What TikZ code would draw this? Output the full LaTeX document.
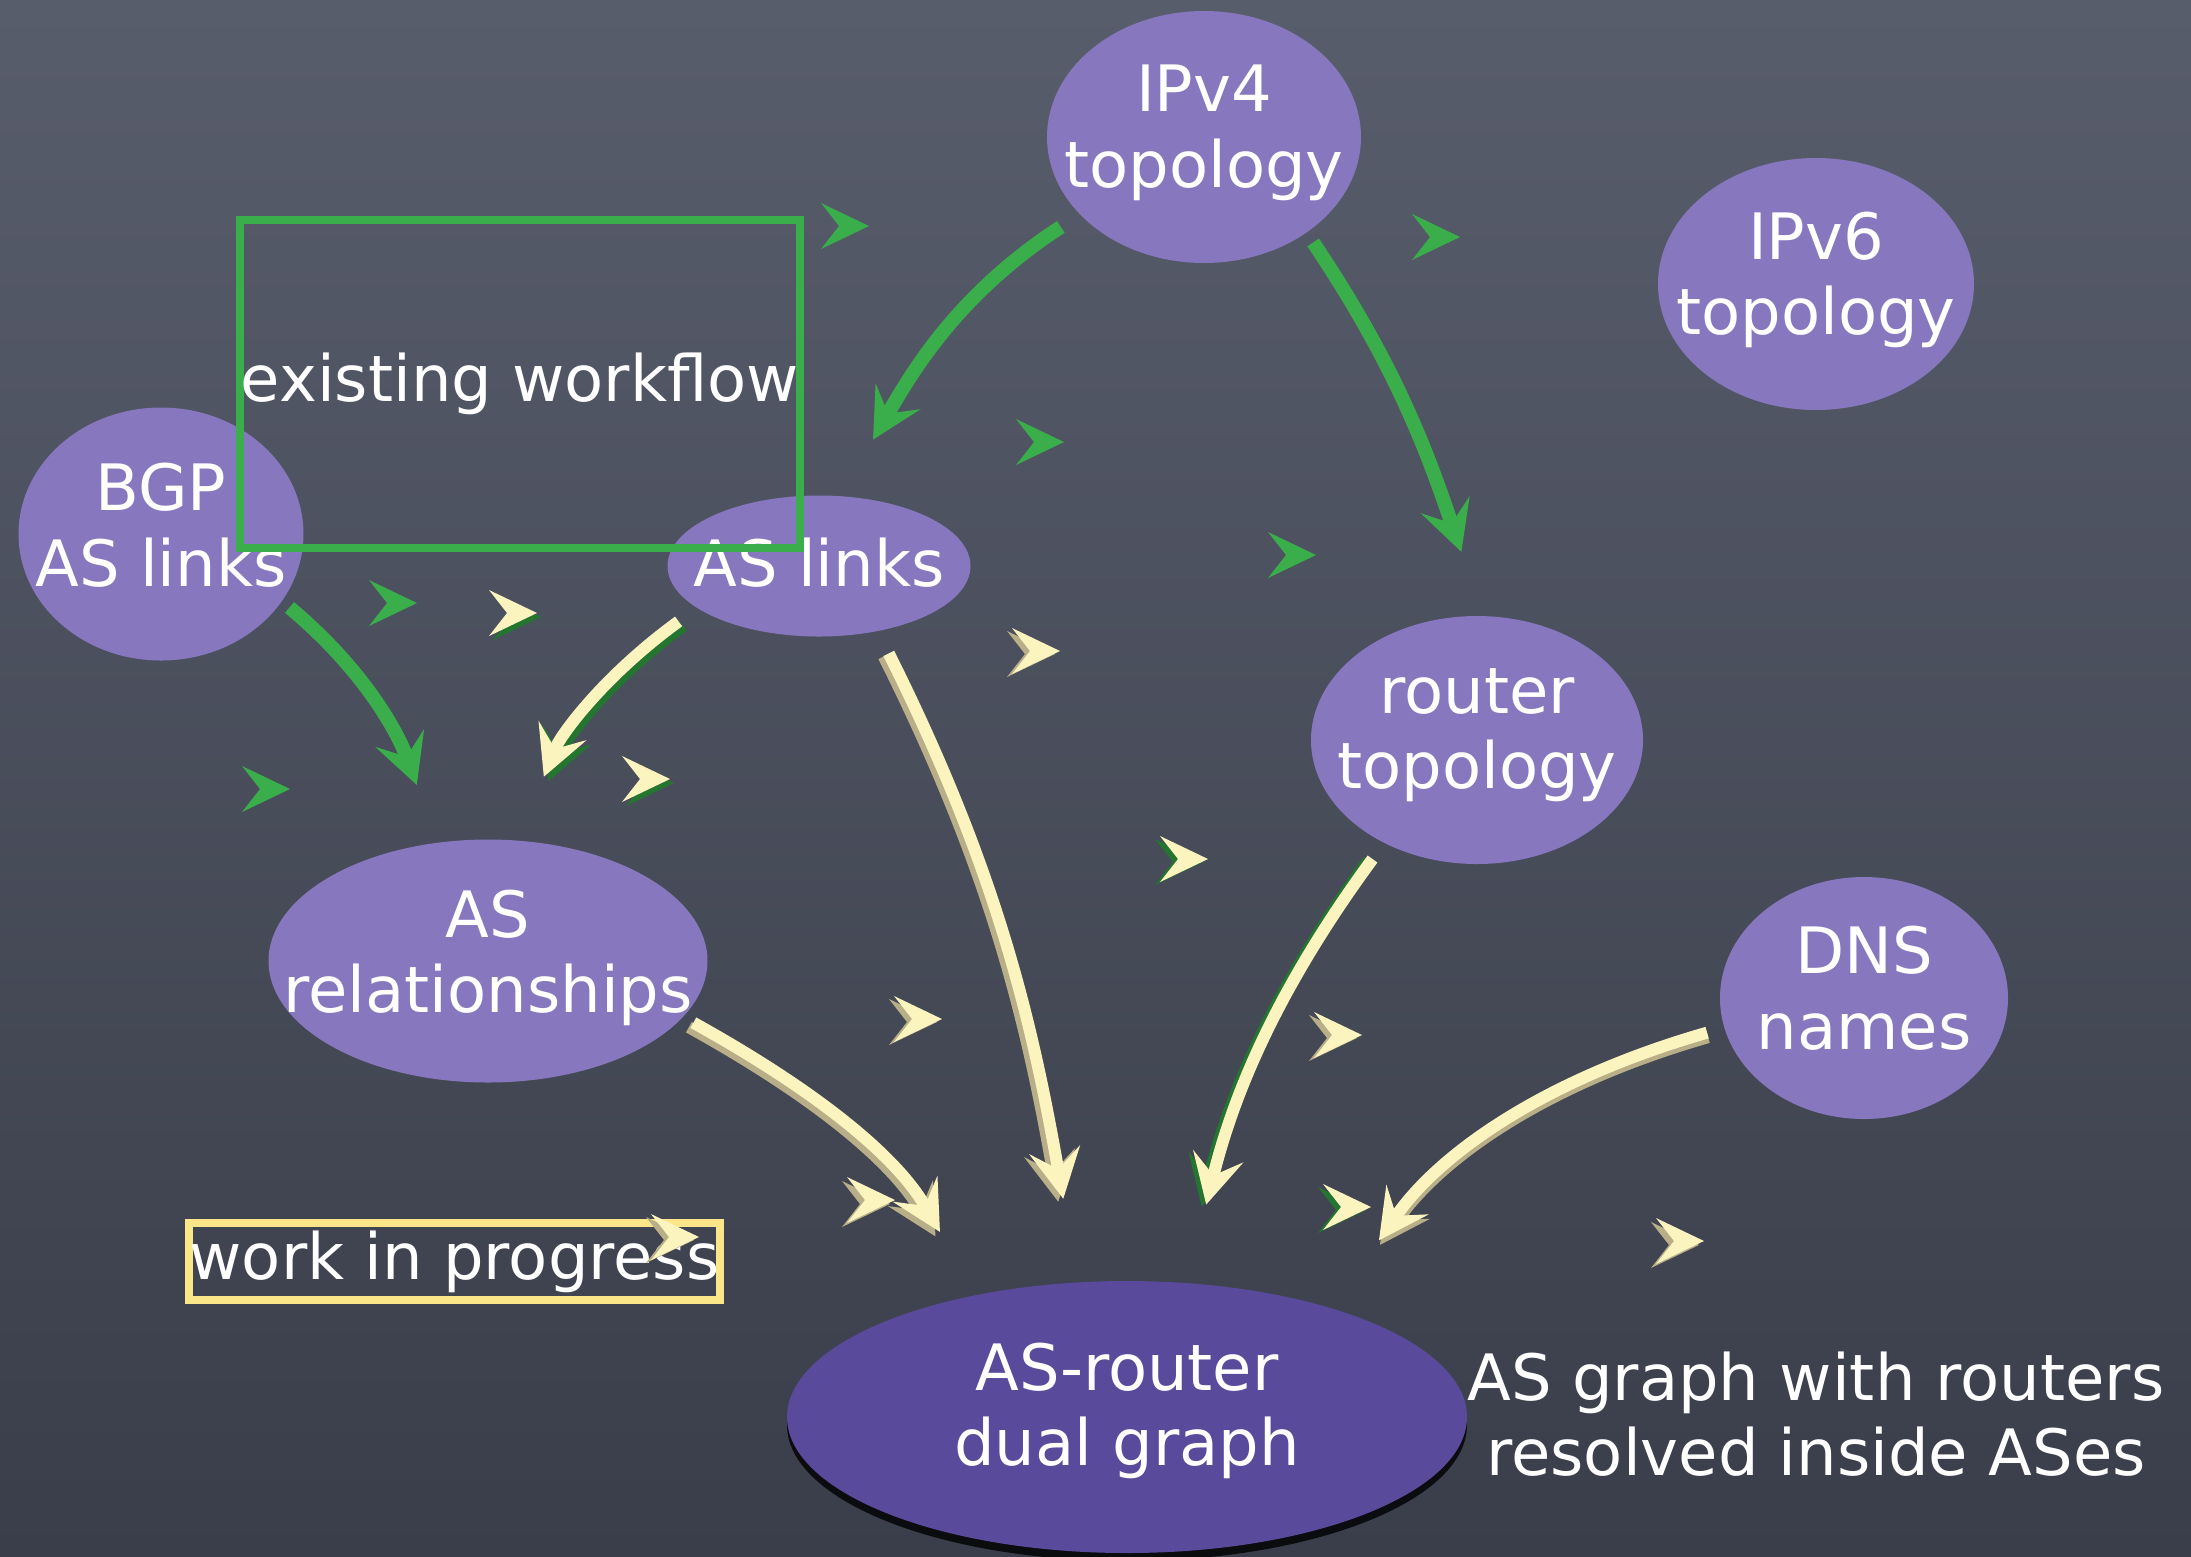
\documentclass[tikz,border=0pt]{standalone}
\usepackage{fontspec}
\setmainfont{DejaVu Sans}
\usetikzlibrary{arrows.meta,shapes.geometric,shadows}

\definecolor{boardtop}{HTML}{585D6C}
\definecolor{boardbot}{HTML}{3A3E4A}
\definecolor{lilac}{HTML}{8777BE}
\definecolor{deeppurple}{HTML}{5A4A9B}
\definecolor{leaf}{HTML}{3AAE4A}
\definecolor{darkleaf}{HTML}{24752F}
\definecolor{cream}{HTML}{FCF4BF}
\definecolor{creamshade}{HTML}{B8AF88}
\definecolor{boxyellow}{HTML}{FBE68A}

\begin{document}
\begin{tikzpicture}[x=0.1mm,y=0.1mm,
  >={Stealth[length=5mm,width=5.2mm,inset=2mm,line width=0pt]},
  bubble/.style={ellipse, fill=lilac, inner sep=0pt, outer sep=0pt},
  caption/.style={text=white, align=center, inner sep=0pt,
    font=\fontsize{18.2}{21.5}\selectfont},
  frame/.style={draw=#1, line width=0.8mm, inner sep=0pt, caption},
  greenlink/.style={draw=leaf, line width=1.4mm, ->},
  creamlink/.style={draw=cream, line width=1.2mm, ->},
  depth/.style 2 args={draw=#1, transform canvas={shift={#2}}},
  pics/gchev/.style={code={
    \fill[leaf] (24,0) -- (-24,23) -- (-6,0) -- (-24,-23) -- cycle;}},
  pics/ychev/.style n args={3}{code={
    \fill[#1, shift={(#2,#3)}] (24,0) -- (-24,23) -- (-6,0) -- (-24,-23) -- cycle;
    \fill[cream] (24,0) -- (-24,23) -- (-6,0) -- (-24,-23) -- cycle;}},
]

% chalkboard
\fill[top color=boardtop, bottom color=boardbot] (0,0) rectangle (2191,-1556);
\useasboundingbox (0,0) rectangle (2191,-1556);

% data sources and products
\node[bubble, minimum width=31.4mm, minimum height=25.2mm] (ipv4) at (1204,-137) {};
\node[caption, yshift=0.4mm] (ipv4-txt) at (ipv4) {IPv4\\topology};

\node[bubble, minimum width=31.6mm, minimum height=25.2mm] (ipv6) at (1816,-284) {};
\node[caption, yshift=0.4mm] (ipv6-txt) at (ipv6) {IPv6\\topology};

\node[bubble, minimum width=28.5mm, minimum height=25.3mm] (bgp) at (161,-534) {};
\node[caption, yshift=0.9mm] (bgp-txt) at (bgp) {BGP\\AS links};

\node[bubble, minimum width=30.3mm, minimum height=14.1mm] (aslinks) at (819,-566) {};
\node[caption, yshift=0.3mm] (aslinks-txt) at (aslinks) {AS links};

\node[bubble, minimum width=33.2mm, minimum height=24.8mm] (router) at (1477,-740) {};
\node[caption, yshift=0.5mm] (router-txt) at (router) {router\\topology};

\node[bubble, minimum width=28.8mm, minimum height=24.2mm] (dns) at (1864,-998) {};
\node[caption, yshift=1.0mm] (dns-txt) at (dns) {DNS\\names};

\node[bubble, minimum width=43.9mm, minimum height=24.3mm] (asrel) at (488,-961) {};
\node[caption, yshift=0.3mm] (asrel-txt) at (asrel) {AS\\relationships};

\node[bubble, fill=deeppurple, minimum width=68mm, minimum height=27.2mm,
  drop shadow={shadow xshift=0mm, shadow yshift=-0.8mm, opacity=0.8, fill=black}] (dual) at (1127,-1417) {};
\node[caption, yshift=0.6mm] (dual-txt) at (dual) {AS-router\\dual graph};

\node[caption] (dual-note) at (1816,-1414) {AS graph with routers\\resolved inside ASes};

% legend frames
\node[frame=leaf, minimum width=56mm, minimum height=32.8mm] (existing) at (520,-384) {existing workflow};
\node[frame=boxyellow, minimum width=53.1mm, minimum height=7.7mm] (progress) at (454.5,-1261.5) {work in progress};

% existing workflow
\draw[greenlink, shorten <=2.3mm, shorten >=6.55mm] (ipv4.212.7) to[out=213,in=60] (aslinks.73);
\draw[greenlink, shorten <=1.2mm, shorten >=6.8mm] (ipv4.317.4) to[out=304,in=109] (router.87.6);
\draw[greenlink, shorten <=1.0mm, shorten >=6.15mm] (bgp.331.4) to[out=320,in=110] (asrel.113.1);

% work in progress
\draw[creamlink, depth={darkleaf}{(0.45mm,-0.45mm)}, shorten <=2.3mm, shorten >=6.9mm]
  (aslinks.199) to[out=216,in=68] (asrel.76.7);
\draw[creamlink, shorten <=2.3mm, shorten >=6.9mm] (aslinks.199) to[out=216,in=68] (asrel.76.7);

\draw[creamlink, depth={creamshade}{(-0.5mm,-0.3mm)}, shorten <=2.5mm, shorten >=8.5mm]
  (aslinks.312) to[out=296.6,in=100] (dual.110.5);
\draw[creamlink, shorten <=2.5mm, shorten >=8.5mm] (aslinks.312) to[out=296.6,in=100] (dual.110.5);

\draw[creamlink, depth={creamshade}{(-0.45mm,-0.45mm)}, shorten <=1.2mm, shorten >=7.3mm]
  (asrel.344.1) to[out=331,in=120] (dual.141);
\draw[creamlink, shorten <=1.2mm, shorten >=7.3mm] (asrel.344.1) to[out=331,in=120] (dual.141);

\draw[creamlink, depth={darkleaf}{(-0.45mm,-0.2mm)}, shorten <=2.0mm, shorten >=8.1mm]
  (router.228.8) to[out=233.7,in=76] (dual.66.9);
\draw[creamlink, shorten <=2.0mm, shorten >=8.1mm] (router.228.8) to[out=233.7,in=76] (dual.66.9);

\draw[creamlink, depth={creamshade}{(0.1mm,-0.45mm)}, shorten <=1.8mm, shorten >=8.3mm]
  (dns.192.9) to[out=196,in=55] (dual.28.9);
\draw[creamlink, shorten <=1.8mm, shorten >=8.3mm] (dns.192.9) to[out=196,in=55] (dual.28.9);

% scattered chevrons
\pic at (845,-226) {gchev};
\pic at (1436,-237) {gchev};
\pic at (1040,-442) {gchev};
\pic at (1292,-555) {gchev};
\pic at (393,-603) {gchev};
\pic at (266,-789) {gchev};

\pic at (513,-613) {ychev={darkleaf}{4}{-4}};
\pic at (646,-779) {ychev={darkleaf}{4}{-4}};
\pic at (1036,-651) {ychev={creamshade}{-5}{-3}};
\pic at (1184,-859) {ychev={darkleaf}{-5}{-3}};
\pic at (918,-1019) {ychev={creamshade}{-5}{-3}};
\pic at (1338,-1035) {ychev={creamshade}{-5}{-3}};
\pic at (871,-1200) {ychev={creamshade}{-5}{-4}};
\pic at (1347,-1207) {ychev={darkleaf}{-5}{-3}};
\pic at (675,-1237) {ychev={creamshade}{-5}{-3}};
\pic at (1680,-1241) {ychev={creamshade}{-5}{-4}};

\end{tikzpicture}
\end{document}
